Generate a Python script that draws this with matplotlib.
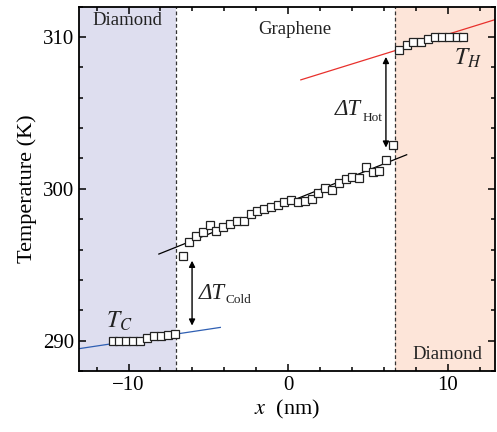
import numpy as np
import matplotlib
matplotlib.use('Agg')
import matplotlib.pyplot as plt
from matplotlib.ticker import MultipleLocator

plt.rcParams['font.family'] = ['Liberation Serif', 'DejaVu Serif']
plt.rcParams['mathtext.fontset'] = 'stix'

# donnees
x_cold = [-11.0, -10.57, -10.14, -9.7, -9.27, -8.83, -8.4, -7.96, -7.5, -7.08]
T_cold = [290.0, 290.0, 290.0, 290.0, 290.0, 290.18, 290.33, 290.33, 290.38, 290.46]

x_gr = [-6.61, -6.19, -5.76, -5.34, -4.91, -4.49, -4.06, -3.64, -3.21, -2.79,
        -2.36, -1.94, -1.51, -1.09, -0.66, -0.24, 0.19, 0.61, 1.04, 1.46,
        1.89, 2.31, 2.74, 3.16, 3.59, 4.01, 4.44, 4.86, 5.29, 5.71,
        6.14, 6.56]
T_gr = [295.55, 296.47, 296.86, 297.12, 297.63, 297.24, 297.50, 297.68, 297.85, 297.89,
        298.34, 298.55, 298.64, 298.82, 298.95, 299.10, 299.26, 299.10, 299.21, 299.32,
        299.72, 300.05, 299.91, 300.41, 300.64, 300.79, 300.70, 301.40, 301.07, 301.18,
        301.89, 302.89]

x_hot = [6.96, 7.42, 7.83, 8.29, 8.73, 9.19, 9.64, 10.08, 10.54, 10.96]
T_hot = [309.14, 309.47, 309.63, 309.69, 309.85, 310.0, 310.0, 310.0, 310.0, 310.0]

# droites d'ajustement (extremites)
fit_cold_x = [-13.1, -4.25]
fit_cold_T = [289.47, 290.87]
fit_gr_x = [-8.1, 7.42]
fit_gr_T = [295.7, 302.24]
fit_hot_x = [0.79, 13.0]
fit_hot_T = [307.17, 311.15]

x_left_int = -7.04
x_right_int = 6.69
xmin, xmax = -13.1, 12.95

fig = plt.figure(figsize=(4.97, 4.32), dpi=100)
ax = fig.add_axes([79/497, 1-371/432, (495-79)/497, (371-6.5)/432])

ax.axvspan(xmin, x_left_int, color='#dedeef', lw=0, zorder=0)
ax.axvspan(x_right_int, xmax, color='#fde5d9', lw=0, zorder=0)
ax.axvline(x_left_int, color='#333333', ls=(0, (3, 2)), lw=0.9, zorder=1)
ax.axvline(x_right_int, color='#333333', ls=(0, (3, 2)), lw=0.9, zorder=1)

ax.plot(fit_cold_x, fit_cold_T, color='#2f5fb3', lw=0.9, zorder=2)
ax.plot(fit_gr_x, fit_gr_T, color='black', lw=0.9, zorder=2)
ax.plot(fit_hot_x, fit_hot_T, color='#e8302c', lw=0.9, zorder=2)

for xs, ts in [(x_cold, T_cold), (x_gr, T_gr), (x_hot, T_hot)]:
    ax.plot(xs, ts, 's', ms=5.3, mfc='white', mec='#222222', mew=0.9, zorder=3)

arr = dict(arrowstyle='<|-|>', color='black', lw=1.0, mutation_scale=9, shrinkA=0, shrinkB=0)
ax.annotate('', xy=(6.12, 308.68), xytext=(6.12, 302.71), arrowprops=arr)
ax.annotate('', xy=(-6.02, 295.26), xytext=(-6.02, 290.99), arrowprops=arr)

# Delta T avec indice plus petit
ax.text(2.94, 304.84, 'ΔT', fontsize=16.5, style='italic', ha='left', va='baseline', color='#222222')
ax.text(4.68, 304.44, 'Hot', fontsize=9.5, ha='left', va='baseline', color='#222222')
ax.text(-5.63, 292.74, 'ΔT', fontsize=16.5, style='italic', ha='left', va='baseline', color='#222222')
ax.text(-3.95, 292.48, 'Cold', fontsize=9.5, ha='left', va='baseline', color='#222222')

ax.text(-10.6, 291.25, r'$T_C$', fontsize=17, ha='center', va='center', color='#222222')
ax.text(11.25, 308.6, r'$T_H$', fontsize=17, ha='center', va='center', color='#222222')

ax.text(-10.05, 311.05, 'Diamond', fontsize=13.5, ha='center', va='center', color='#222222')
ax.text(0.4, 310.5, 'Graphene', fontsize=13.5, ha='center', va='center', color='#222222')
ax.text(9.95, 289.08, 'Diamond', fontsize=13.5, ha='center', va='center', color='#222222')

ax.set_xlim(xmin, xmax)
ax.set_ylim(288, 312)
ax.xaxis.set_major_locator(MultipleLocator(10))
ax.xaxis.set_minor_locator(MultipleLocator(2))
ax.yaxis.set_major_locator(MultipleLocator(10))
ax.yaxis.set_minor_locator(MultipleLocator(2))
ax.tick_params(which='both', direction='in', top=True, right=True, width=1.1, labelsize=15)
ax.tick_params(which='major', length=5)
ax.tick_params(which='minor', length=3)
for s in ax.spines.values():
    s.set_linewidth(1.3)

ax.set_xlabel(r'$x$  (nm)', fontsize=16, labelpad=2)
ax.set_ylabel('Temperature (K)', fontsize=16, labelpad=4)

fig.savefig('out.png', dpi=100)
